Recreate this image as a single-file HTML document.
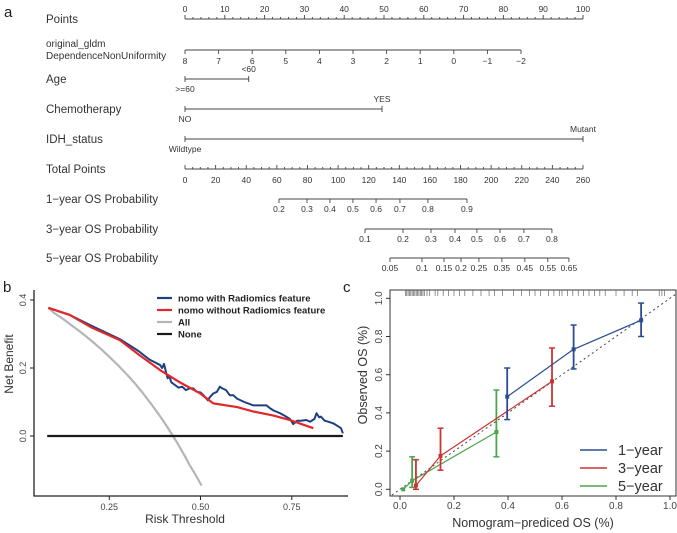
<!DOCTYPE html>
<html><head><meta charset="utf-8"><style>
html,body{margin:0;padding:0;background:#fff;}
svg{display:block;font-family:"Liberation Sans",sans-serif;}
</style></head><body>
<svg id="fig" width="677" height="533" viewBox="0 0 677 533">
<g id="nomo"></g>
<g id="dca"></g>
<g id="cal"></g>
</svg>
<script>
// ---------- Nomogram data ----------
const pointsTicks=[0,10,20,30,40,50,60,70,80,90,100];
const dnuTicks=[8,7,6,5,4,3,2,1,0,-1,-2];
const dnuLabels=["8","7","6","5","4","3","2","1","0","\u22121","\u22122"];
const agePoints=[0,16];
const chemoPoints=[0,49.5];
const idhPoints=[0,100];
const totalTicks=[0,20,40,60,80,100,120,140,160,180,200,220,240,260];
const prob1Labels=["0.2","0.3","0.4","0.5","0.6","0.7","0.8","0.9"];
const prob1Total=[61.4,79.7,94.7,109.7,124.8,140.4,158.7,184.2];
const prob3Labels=["0.1","0.2","0.3","0.4","0.5","0.6","0.7","0.8"];
const prob3Total=[117.6,142.4,160.7,176.4,190.7,205.8,221.4,239.7];
const prob5Labels=["0.05","0.1","0.15","0.2","0.25","0.35","0.45","0.55","0.65"];
const prob5Total=[133.9,154.8,169.2,180.3,192,207,222,237,250.8];

// ---------- DCA data ----------
const blueT=[0.083,0.142,0.2,0.279,0.33,0.36,0.389,0.395,0.40,0.405,0.41,0.415,0.42,0.43,0.44,0.45,0.46,0.47,0.48,0.49,0.50,0.51,0.52,0.526,0.535,0.545,0.553,0.56,0.57,0.58,0.59,0.60,0.62,0.645,0.66,0.681,0.69,0.70,0.718,0.73,0.745,0.754,0.765,0.775,0.79,0.80,0.812,0.818,0.825,0.83,0.84,0.85,0.864,0.875,0.885,0.89];
const blueV=[0.377,0.356,0.325,0.285,0.25,0.225,0.209,0.2,0.212,0.19,0.17,0.175,0.158,0.15,0.142,0.145,0.135,0.14,0.14,0.13,0.128,0.118,0.105,0.115,0.125,0.13,0.145,0.14,0.135,0.12,0.12,0.11,0.1,0.09,0.09,0.09,0.082,0.075,0.067,0.06,0.05,0.035,0.045,0.045,0.047,0.042,0.05,0.067,0.055,0.057,0.045,0.042,0.037,0.03,0.023,0.008];
const redT=[0.083,0.142,0.2,0.279,0.33,0.389,0.44,0.498,0.535,0.6,0.645,0.7,0.745,0.809];
const redV=[0.377,0.356,0.32,0.282,0.24,0.194,0.16,0.126,0.096,0.085,0.072,0.06,0.047,0.023];
const allT=[0.083,0.10,0.12,0.145,0.17,0.19,0.21,0.23,0.252,0.275,0.3,0.32,0.343,0.365,0.39,0.41,0.435,0.455,0.47,0.487,0.503];
const allV=[0.377,0.361,0.347,0.327,0.307,0.29,0.272,0.253,0.231,0.207,0.179,0.155,0.125,0.094,0.057,0.025,-0.018,-0.055,-0.085,-0.115,-0.146];
const noneT=[0.08,0.89];
const noneV=[0,0];
const dcaXTicks=[0.25,0.5,0.75];
const dcaXLabels=["0.25","0.50","0.75"];
const dcaYTicks=[0,0.2,0.4];
const dcaYLabels=["0.0","0.2","0.4"];

// ---------- Calibration data ----------
const calPred1=[0.397,0.643,0.893];
const calObs1=[0.485,0.733,0.885];
const calLo1=[0.365,0.63,0.80];
const calHi1=[0.635,0.86,0.975];
const calPred3=[0.059,0.15,0.563];
const calObs3=[0.02,0.175,0.565];
const calLo3=[0.0,0.10,0.435];
const calHi3=[0.155,0.32,0.74];
const calPred5=[0.012,0.045,0.357];
const calObs5=[0.0,0.045,0.30];
const calLo5=[0.0,0.01,0.17];
const calHi5=[0.0,0.17,0.52];
const rugVals=[0.02,0.025,0.03,0.035,0.04,0.045,0.05,0.055,0.06,0.065,0.07,0.075,0.08,0.085,0.09,0.1,0.11,0.13,0.14,0.16,0.18,0.2,0.22,0.24,0.27,0.3,0.33,0.35,0.38,0.42,0.45,0.48,0.5,0.52,0.55,0.57,0.59,0.6,0.62,0.64,0.66,0.68,0.7,0.72,0.74,0.76,0.8,0.83,0.86,0.88,0.96,0.97,0.98];
const calTicks=[0,0.2,0.4,0.6,0.8,1.0];
const calTickLabels=["0.0","0.2","0.4","0.6","0.8","1.0"];

const NS="http://www.w3.org/2000/svg";
function mk(parent,tag,attrs,text){const e=document.createElementNS(NS,tag);for(const k in attrs)e.setAttribute(k,attrs[k]);if(text!==undefined)e.textContent=text;parent.appendChild(e);return e;}

// ---------- Nomogram ----------
const nomo=document.getElementById('nomo');
const px=p=>185+p*3.98;
const tx=t=>185+t*398/260;
const dnuX=v=>185+(8-v)*33.6;
let e;
e=mk(nomo,'text',{x:4,y:17,'font-size':15,fill:'#222'},'a');


const rowLabels=[["Points",23],["Age",83],["Chemotherapy",113],["IDH_status",143],["Total Points",173],["1\u2212year OS Probability",203],["3\u2212year OS Probability",233],["5\u2212year OS Probability",262]];
rowLabels.forEach(r=>{e=mk(nomo,'text',{x:46,y:r[1],'font-size':11.5,fill:'#333'},r[0]);

});
mk(nomo,'text',{x:46,y:47,'font-size':10,fill:'#333'},'original_gldm');
mk(nomo,'text',{x:46,y:59,'font-size':10,fill:'#333'},'DependenceNonUniformity');
const st={stroke:'#444','stroke-width':0.9,fill:'none'};
mk(nomo,'line',Object.assign({x1:px(0),x2:px(100),y1:19,y2:19},st));
for(let i=0;i<=100;i+=2){mk(nomo,'line',Object.assign({x1:px(i),x2:px(i),y1:19,y2:i%10===0?15:17},st));}
pointsTicks.forEach(p=>{e=mk(nomo,'text',{x:px(p),y:12,'font-size':8.5,fill:'#333','text-anchor':'middle'},String(p));

});
mk(nomo,'line',Object.assign({x1:dnuX(8),x2:dnuX(-2),y1:50,y2:50},st));
dnuTicks.forEach((v,i)=>{mk(nomo,'line',Object.assign({x1:dnuX(v),x2:dnuX(v),y1:50,y2:54},st));
e=mk(nomo,'text',{x:dnuX(v),y:64,'font-size':8.5,fill:'#333','text-anchor':'middle'},dnuLabels[i]);

});
function cat(y,pts,labs){mk(nomo,'line',Object.assign({x1:px(pts[0]),x2:px(pts[1]),y1:y,y2:y},st));
pts.forEach(p=>mk(nomo,'line',Object.assign({x1:px(p),x2:px(p),y1:y-3,y2:y+3},st)));
mk(nomo,'text',{x:px(pts[0]),y:y+13,'font-size':8.5,fill:'#333','text-anchor':'middle'},labs[0]);
mk(nomo,'text',{x:px(pts[1]),y:y-7,'font-size':8.5,fill:'#333','text-anchor':'middle'},labs[1]);}
cat(79,agePoints,[">=60","<60"]);
cat(109,chemoPoints,["NO","YES"]);
cat(139,idhPoints,["Wildtype","Mutant"]);
mk(nomo,'line',Object.assign({x1:tx(0),x2:tx(260),y1:169,y2:169},st));
for(let i=0;i<=260;i+=5){mk(nomo,'line',Object.assign({x1:tx(i),x2:tx(i),y1:169,y2:i%20===0?165:167},st));}
totalTicks.forEach(t=>{e=mk(nomo,'text',{x:tx(t),y:183,'font-size':8.5,fill:'#333','text-anchor':'middle'},String(t));

});
function probAxis(y,tot,labs,name){mk(nomo,'line',Object.assign({x1:tx(tot[0]),x2:tx(tot[tot.length-1]),y1:y,y2:y},st));
tot.forEach((t,i)=>{mk(nomo,'line',Object.assign({x1:tx(t),x2:tx(t),y1:y,y2:y+4},st));
e=mk(nomo,'text',{x:tx(t),y:y+13,'font-size':8.5,fill:'#333','text-anchor':'middle'},labs[i]);

});}
probAxis(199,prob1Total,prob1Labels,'prob-1yr-tick-label');
probAxis(229,prob3Total,prob3Labels,'prob-3yr-tick-label');
probAxis(258,prob5Total,prob5Labels,'prob-5yr-tick-label');

// ---------- DCA ----------
const dca=document.getElementById('dca');
const dx=t=>18+365*t;
const dy=v=>436-340*v;
e=mk(dca,'text',{x:3,y:292,'font-size':15,fill:'#222'},'b');


mk(dca,'polyline',{points:'34,290 34,496 348,496',fill:'none',stroke:'#222','stroke-width':1.3});
dcaXTicks.forEach((t,i)=>{mk(dca,'line',{x1:dx(t),x2:dx(t),y1:496,y2:500,stroke:'#222'});
e=mk(dca,'text',{x:dx(t),y:510,'font-size':9,fill:'#444','text-anchor':'middle'},dcaXLabels[i]);

});
dcaYTicks.forEach((v,i)=>{mk(dca,'line',{x1:30,x2:34,y1:dy(v),y2:dy(v),stroke:'#222'});
e=mk(dca,'text',{x:0,y:0,'font-size':9,fill:'#444','text-anchor':'middle',transform:`translate(26,${dy(v)}) rotate(-90)`},dcaYLabels[i]);

});
e=mk(dca,'text',{x:185,y:523,'font-size':12,fill:'#333','text-anchor':'middle'},'Risk Threshold');


e=mk(dca,'text',{x:0,y:0,'font-size':12,fill:'#333','text-anchor':'middle',transform:'translate(13,364) rotate(-90)'},'Net Benefit');


function poly(g,T,V,fx,fy,attrs){return mk(g,'polyline',Object.assign({points:T.map((t,i)=>fx(t)+','+fy(V[i])).join(' '),fill:'none','stroke-linejoin':'round'},attrs));}
e=poly(dca,allT,allV,dx,dy,{stroke:'#b5b5b5','stroke-width':2.2});


e=poly(dca,noneT,noneV,dx,dy,{stroke:'#1a1a1a','stroke-width':2.2});


e=poly(dca,blueT,blueV,dx,dy,{stroke:'#1f3f85','stroke-width':2});


e=poly(dca,redT,redV,dx,dy,{stroke:'#e0282a','stroke-width':2.2});


const legB=[["nomo with Radiomics feature","#1f3f85"],["nomo without Radiomics feature","#e0282a"],["All","#b5b5b5"],["None","#1a1a1a"]];
legB.forEach((l,i)=>{const y=298+i*12;mk(dca,'line',{x1:157,x2:172,y1:y,y2:y,stroke:l[1],'stroke-width':2.2});
e=mk(dca,'text',{x:178,y:y+3.5,'font-size':9.5,'font-weight':'bold',fill:'#222'},l[0]);

});

// ---------- Calibration ----------
const cal=document.getElementById('cal');
const cx=p=>400+270*p;
const cy=p=>489.3-191*p;
e=mk(cal,'text',{x:343,y:292,'font-size':15,fill:'#222'},'c');


mk(cal,'rect',{x:390,y:290,width:286,height:206,fill:'none',stroke:'#333','stroke-width':1});
calTicks.forEach((t,i)=>{mk(cal,'line',{x1:cx(t),x2:cx(t),y1:496,y2:500,stroke:'#333'});
mk(cal,'line',{x1:386,x2:390,y1:cy(t),y2:cy(t),stroke:'#333'});
e=mk(cal,'text',{x:cx(t),y:509,'font-size':10,fill:'#444','text-anchor':'middle'},calTickLabels[i]);


e=mk(cal,'text',{x:0,y:0,'font-size':10,fill:'#444','text-anchor':'middle',transform:`translate(382,${cy(t)}) rotate(-90)`},calTickLabels[i]);

});
e=mk(cal,'text',{x:533,y:527,'font-size':12.5,fill:'#333','text-anchor':'middle'},'Nomogram\u2212prediced OS (%)');


e=mk(cal,'text',{x:0,y:0,'font-size':12.5,fill:'#333','text-anchor':'middle',transform:'translate(367,375) rotate(-90)'},'Observed OS (%)');


e=mk(cal,'line',{x1:cx(-0.03),y1:cy(-0.03),x2:cx(1.03),y2:cy(1.03),stroke:'#444','stroke-dasharray':'2,3','stroke-width':1});


rugVals.forEach(v=>{mk(cal,'line',{x1:cx(v),x2:cx(v),y1:290,y2:296,stroke:'#666','stroke-width':0.7});});
function series(P,O,L,H,col,name){e=poly(cal,P,O,cx,cy,{stroke:col,'stroke-width':1.2});


P.forEach((p,i)=>{if(H[i]>L[i]){mk(cal,'line',{x1:cx(p),x2:cx(p),y1:cy(L[i]),y2:cy(H[i]),stroke:col,'stroke-width':1.8});
[L[i],H[i]].forEach(v=>mk(cal,'line',{x1:cx(p)-3,x2:cx(p)+3,y1:cy(v),y2:cy(v),stroke:col,'stroke-width':1.5}));}
e=mk(cal,'rect',{x:cx(p)-2,y:cy(O[i])-2,width:4,height:4,fill:col});

});}
series(calPred5,calObs5,calLo5,calHi5,'#4aa64a','cal-5yr');
series(calPred3,calObs3,calLo3,calHi3,'#cc3333','cal-3yr');
series(calPred1,calObs1,calLo1,calHi1,'#2a4d8f','cal-1yr');
const legC=[["1\u2212year","#2a4d8f"],["3\u2212year","#cc3333"],["5\u2212year","#4aa64a"]];
legC.forEach((l,i)=>{const y=450+i*18;mk(cal,'line',{x1:580,x2:607,y1:y,y2:y,stroke:l[1],'stroke-width':1.5});
e=mk(cal,'text',{x:618,y:y+5,'font-size':14.5,fill:'#333'},l[0]);

});
</script>
</body></html>
